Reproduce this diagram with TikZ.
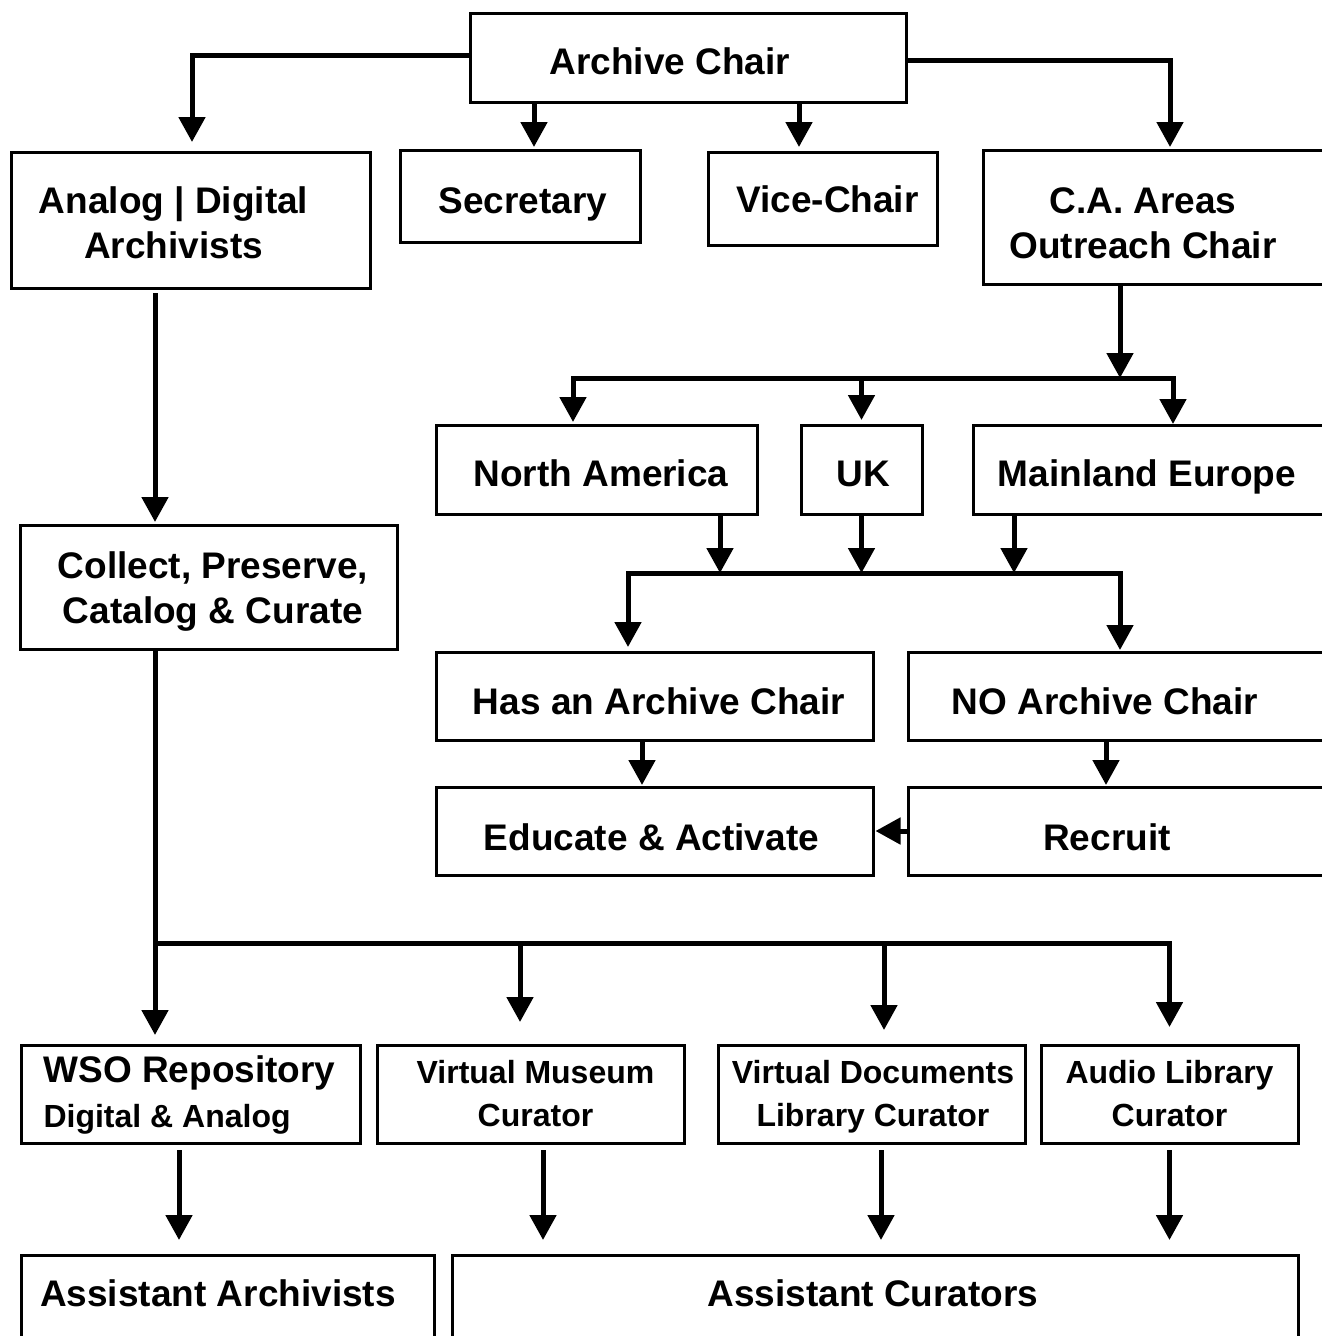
\documentclass[tikz,border=0pt]{standalone}
\usepackage{fontspec}
\setmainfont{Liberation Sans}
\usetikzlibrary{arrows.meta}
% [node options]{name}{x1}{y1}{x2}{y2}{text dx}{text dy}{text}
\newcommand\mkbox[9][]{%
  \node[box,#1,minimum width={#5-#3},minimum height={#6-#4}] (#2) at ({(#3+#5)/2},{(#4+#6)/2})
  {\raisebox{-#8pt}[\height][\depth]{\ifdim#7pt>0pt\kern#7pt\kern#7pt\fi\begin{tabular}{@{}c@{}}#9\end{tabular}\ifdim#7pt<0pt\kern-#7pt\kern-#7pt\fi}};}
\begin{document}
\begin{tikzpicture}[x=1pt,y=-1pt,
  box/.style={draw, line width=3pt, inner sep=0pt, outer sep=0pt, font=\bfseries\fontsize{37}{45}\selectfont},
  smallfont/.style={font=\bfseries\fontsize{32}{43}\selectfont},
  conn/.style={line width=5pt},
  arr/.style={conn, -{Triangle[width=26pt,length=25pt]}}]
\useasboundingbox (0,0) rectangle (1322,1336);

\mkbox{chair}{470}{13}{906}{102}{-18}{7.5}{Archive Chair}
\mkbox{ana}{11}{152}{370}{288}{-17}{6.5}{Analog | Digital\\Archivists}
\mkbox{sec}{400}{150}{640}{242}{3}{8}{Secretary}
\mkbox{vice}{708}{152}{937}{245}{5}{4.5}{Vice-Chair}
\mkbox{ca}{983}{150}{1326}{284}{-11.5}{9.5}{C.A. Areas\\Outreach Chair}
\mkbox{na}{436}{425}{757}{514}{4.5}{7.5}{North America}
\mkbox{uk}{801}{425}{922}{514}{1.5}{7.5}{UK}
\mkbox{me}{973}{425}{1326}{514}{-2.5}{7.5}{Mainland Europe}
\mkbox{has}{436}{652}{873}{740}{4.5}{9}{Has an Archive Chair}
\mkbox{no}{908}{652}{1326}{740}{-12}{9}{NO Archive Chair}
\mkbox{edu}{436}{787}{873}{875}{-3}{10}{Educate \& Activate}
\mkbox{rec}{908}{787}{1326}{875}{-10}{10}{Recruit}
\mkbox{col}{20}{525}{397}{649}{4.5}{5}{Collect, Preserve,\\Catalog \& Curate}
\mkbox{wso}{21}{1045}{360}{1143}{-1}{2}{\multicolumn{1}{@{}l@{}}{WSO Repository}\\\multicolumn{1}{@{}l@{}}{\fontsize{32}{43}\selectfont Digital \& Analog}}
\mkbox[smallfont]{vm}{377}{1045}{684}{1143}{5}{2.5}{Virtual Museum\\Curator}
\mkbox[smallfont]{vd}{718}{1045}{1025}{1143}{1.5}{2.5}{Virtual Documents\\Library Curator}
\mkbox[smallfont]{al}{1041}{1045}{1298}{1143}{0}{2.5}{Audio Library\\Curator}
\mkbox{aa}{21}{1255}{434}{1345}{-9.5}{-2.5}{Assistant Archivists}
\mkbox{ac}{452}{1255}{1298}{1345}{-2}{-2.5}{Assistant Curators}

% Archive Chair to its four children
\coordinate (secX) at ([xshift=14pt]sec.north);
\draw[arr,shorten >=3pt] (secX |- chair.south) -- (secX);
\coordinate (viceX) at ([xshift=-23.5pt]vice.north);
\draw[arr,shorten >=5pt] (viceX |- chair.south) -- (viceX);
\coordinate (anaX) at ([xshift=1.5pt]ana.north);
\draw[arr,shorten >=10pt] ([yshift=2.5pt]chair.west) -| (anaX);
\coordinate (caX) at ([xshift=15.5pt]ca.north);
\draw[arr,shorten >=3pt] ([yshift=-2.5pt]chair.east) -| (caX);

% Archivists to Collect
\coordinate (anaS) at ([xshift=-35.5pt]ana.south);
\draw[arr,shorten <=5pt,shorten >=3pt] (anaS) -- (anaS |- col.north);

% Outreach to regions
\coordinate (caS) at ([xshift=-34.5pt]ca.south);
\coordinate (b1) at (caS |- 0,378);
\draw[arr] (caS) -- (b1);
\coordinate (naN) at ([xshift=-23.5pt]na.north);
\coordinate (meN) at ([xshift=23.5pt]me.north);
\draw[arr,shorten >=3pt] (b1) -| (naN);
\draw[arr,shorten >=1pt] (b1) -| (meN);
\draw[arr,shorten >=5pt] (uk.north |- b1) -- (uk.north);

% Regions to Has / NO
\coordinate (b2) at (861,573);
\coordinate (naS) at ([xshift=123.5pt]na.south);
\coordinate (meS) at ([xshift=-135.5pt]me.south);
\draw[arr] (naS) -- (naS |- b2);
\draw[arr] (uk.south) -- (uk.south |- b2);
\draw[arr] (meS) -- (meS |- b2);
\coordinate (hasN) at ([xshift=-26.5pt]has.north);
\coordinate (noN) at ([xshift=3pt]no.north);
\draw[arr,shorten >=5pt] (b2) -| (hasN);
\draw[arr,shorten >=2pt] (b2) -| (noN);

\coordinate (hasS) at ([xshift=-12.5pt]has.south);
\draw[arr,shorten >=2pt] (hasS) -- (hasS |- edu.north);
\coordinate (noS) at ([xshift=-11pt]no.south);
\draw[arr,shorten >=2pt] (noS) -- (noS |- rec.north);
\draw[arr,shorten >=2.5pt] (rec.west) -- (rec.west -| edu.east);

% Collect to curators
\coordinate (colS) at ([xshift=-53.5pt]col.south);
\coordinate (b3) at (520,943);
\draw[arr,shorten >=10pt] (colS) -- (colS |- wso.north);
\draw[arr,shorten >=18pt] (colS |- b3) -| (al.north);
\coordinate (vmN) at ([xshift=-10.5pt]vm.north);
\coordinate (vdN) at ([xshift=12.5pt]vd.north);
\draw[arr,shorten >=23pt] (vmN |- b3) -- (vmN);
\draw[arr,shorten >=15pt] (vdN |- b3) -- (vdN);

% Curators to assistants
\coordinate (wsoS) at ([xshift=-11.5pt]wso.south);
\draw[arr,shorten <=7pt,shorten >=15pt] (wsoS) -- (wsoS |- aa.north);
\coordinate (vmS) at ([xshift=12.5pt]vm.south);
\draw[arr,shorten <=7pt,shorten >=15pt] (vmS) -- (vmS |- ac.north);
\coordinate (vdS) at ([xshift=9.5pt]vd.south);
\draw[arr,shorten <=7pt,shorten >=15pt] (vdS) -- (vdS |- ac.north);
\draw[arr,shorten <=7pt,shorten >=15pt] (al.south) -- (al.south |- ac.north);
\end{tikzpicture}
\end{document}
